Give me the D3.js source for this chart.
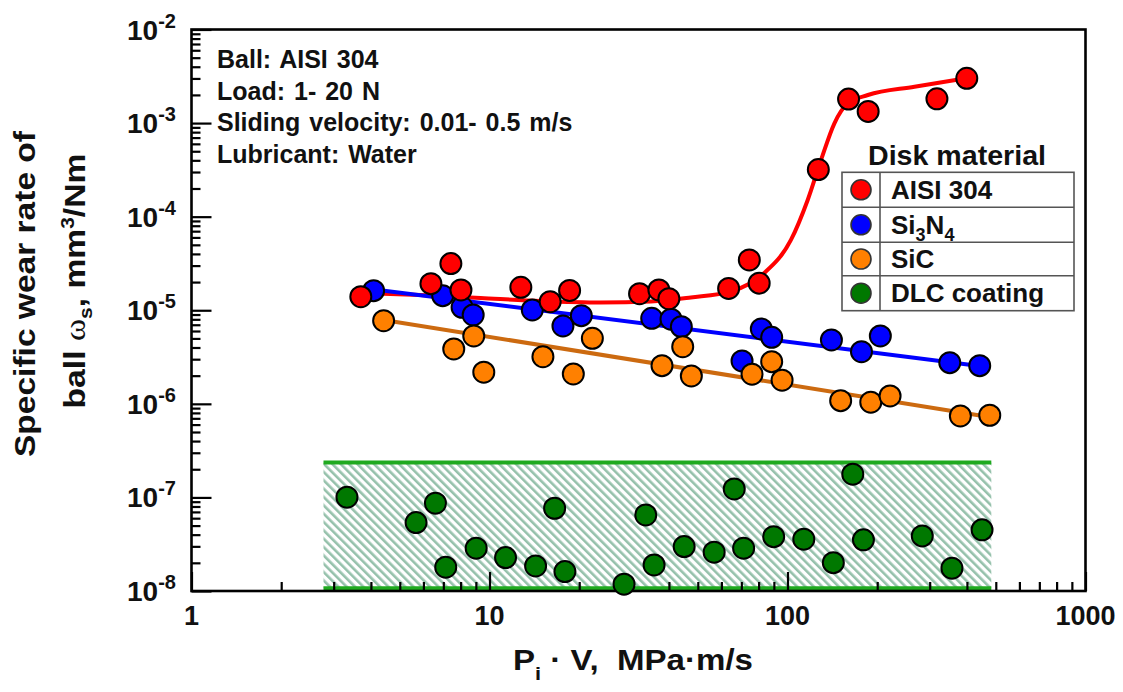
<!DOCTYPE html>
<html>
<head>
<meta charset="utf-8">
<script src="https://cdn.jsdelivr.net/npm/d3@7"></script>
<style>
  html, body { margin: 0; padding: 0; background: #fff; }
  svg { display: block; }
  text { font-family: "Liberation Sans", Arial, Helvetica, sans-serif; font-weight: bold; fill: #111; }
</style>
</head>
<body>
<svg id="chart" width="1123" height="692"></svg>
<script>
// ---- data: specific wear rate of the AISI 304 ball vs. Pi·V ----
const xMajorTicks = [1, 10, 100, 1000];
const yExponents = [-2, -3, -4, -5, -6, -7, -8];

// AISI 304 disk
const aisiPV   = [3.70, 6.36, 7.42, 8.02, 12.74, 15.98, 18.57, 31.88, 37.02, 39.99, 63.45, 74.45, 80.34, 126.9, 160.3, 186.5, 317.3, 399.6];
const aisiWear = [1.397e-5, 1.924e-5, 3.15e-5, 1.648e-5, 1.76e-5, 1.235e-5, 1.627e-5, 1.504e-5, 1.648e-5, 1.33e-5, 1.71e-5, 3.45e-5, 1.948e-5, 3.185e-4, 1.804e-3, 1.33e-3, 1.818e-3, 3.01e-3];
const aisiFitPV   = [3.713, 5.864, 9.328, 14.84, 23.61, 34.77, 47.38, 64.58, 83.37, 102.7, 116.9, 129.6, 143.7, 159.4, 186.1, 266.8, 398.1];
const aisiFitWear = [1.530e-5, 1.457e-5, 1.353e-5, 1.257e-5, 1.212e-5, 1.241e-5, 1.370e-5, 1.588e-5, 2.485e-5, 5.638e-5, 1.508e-4, 4.035e-4, 9.95e-4, 1.627e-3, 1.996e-3, 2.448e-3, 3.01e-3];

// Si3N4 disk
const sinPV   = [4.084, 6.966, 8.09, 8.815, 13.92, 17.64, 20.33, 35.02, 40.65, 44.03, 70.38, 81.7, 88.5, 140.4, 177.1, 204.9, 350.4, 441.6];
const sinWear = [1.620e-5, 1.432e-5, 1.076e-5, 8.91e-6, 1.007e-5, 6.80e-6, 8.76e-6, 8.21e-6, 8.02e-6, 6.68e-6, 2.873e-6, 6.31e-6, 5.14e-6, 4.82e-6, 3.61e-6, 5.31e-6, 2.755e-6, 2.559e-6];
const sinFitPV   = [4.107, 440.5];
const sinFitWear = [1.668e-5, 2.541e-6];

// SiC disk
const sicPV   = [4.413, 7.586, 8.855, 9.568, 15.11, 19.11, 22.14, 37.92, 44.5, 47.57, 76.03, 88.5, 95.9, 150.8, 190.3, 220.9, 380.3, 477.2];
const sicWear = [7.74e-6, 3.86e-6, 5.31e-6, 2.176e-6, 3.19e-6, 2.087e-6, 5.02e-6, 2.559e-6, 4.08e-6, 1.986e-6, 2.072e-6, 2.824e-6, 1.787e-6, 1.082e-6, 1.040e-6, 1.214e-6, 7.42e-7, 7.55e-7];
const sicFitPV   = [4.413, 475.7];
const sicFitWear = [7.88e-6, 7.24e-7];

// DLC coating disk
const dlcPV   = [3.324, 5.670, 6.585, 7.131, 9.022, 11.32, 14.28, 16.54, 17.91, 28.28, 33.45, 35.67, 45.00, 56.74, 66.26, 71.25, 89.87, 113.4, 142.5, 165.6, 179.8, 283.3, 356.3, 449.6];
const dlcWear = [1.005e-7, 5.38e-8, 8.67e-8, 1.796e-8, 2.866e-8, 2.274e-8, 1.854e-8, 7.66e-8, 1.612e-8, 1.182e-8, 6.50e-8, 1.900e-8, 2.98e-8, 2.60e-8, 1.232e-7, 2.866e-8, 3.81e-8, 3.58e-8, 2.01e-8, 1.769e-7, 3.52e-8, 3.88e-8, 1.752e-8, 4.50e-8];
const dlcBandPV   = [2.773, 483];
const dlcBandWear = [1.07e-8, 2.355e-7];

const conditions = ["Ball: AISI 304", "Load: 1- 20 N", "Sliding velocity: 0.01- 0.5 m/s", "Lubricant: Water"];
const legendNames = ["AISI 304", "Si3N4", "SiC", "DLC coating"];

// ---- layout ----
const svg = d3.select("#chart");
const plot = { left: 191.5, right: 1085.5, top: 29.5, bottom: 591 };

const x = d3.scaleLog().domain([1, 1000]).range([plot.left, plot.right]);
const y = d3.scaleLog().domain([1e-8, 1e-2]).range([plot.bottom, plot.top]);

const colors = {
  aisi: "#ff0000", sin: "#0000ff", sic: "#ff8000", dlc: "#007800",
  sicLine: "#cc6a10", dlcLine: "#1faa1f", hatch: "#95c1ab"
};

// hatch pattern for the DLC band
const defs = svg.append("defs");
defs.append("pattern")
  .attr("id", "dlcHatch")
  .attr("patternUnits", "userSpaceOnUse")
  .attr("width", 5.9).attr("height", 5.9)
  .attr("patternTransform", "rotate(-45)")
  .append("rect")
  .attr("x", 0).attr("y", 0).attr("width", 2.6).attr("height", 5.9)
  .attr("fill", colors.hatch);

// DLC band
const band = svg.append("g");
band.append("rect")
  .attr("x", x(dlcBandPV[0]))
  .attr("y", y(dlcBandWear[1]))
  .attr("width", x(dlcBandPV[1]) - x(dlcBandPV[0]))
  .attr("height", y(dlcBandWear[0]) - y(dlcBandWear[1]))
  .attr("fill", "url(#dlcHatch)");
[dlcBandWear[0], dlcBandWear[1]].forEach(v => {
  band.append("line")
    .attr("x1", x(dlcBandPV[0])).attr("x2", x(dlcBandPV[1]))
    .attr("y1", y(v)).attr("y2", y(v))
    .attr("stroke", colors.dlcLine).attr("stroke-width", 4);
});

// axes with inward ticks
const xMinor = [];
for (let d = 1; d < 1000; d *= 10) for (let k = 2; k <= 9; k++) xMinor.push(d * k);
const yMinor = [];
for (let e = -8; e < -2; e++) for (let k = 2; k <= 9; k++) yMinor.push(k * Math.pow(10, e));
const yMajor = yExponents.map(e => Math.pow(10, e));

function styleAxis(g) {
  g.select(".domain").remove();
  g.selectAll(".tick line").attr("stroke", "#000").attr("stroke-width", 2.2);
  g.selectAll(".tick text").remove();
}
svg.append("g").attr("transform", `translate(0,${plot.bottom})`)
  .call(d3.axisBottom(x).tickValues(xMajorTicks).tickSize(-19).tickFormat(""))
  .call(styleAxis);
svg.append("g").attr("transform", `translate(0,${plot.bottom})`)
  .call(d3.axisBottom(x).tickValues(xMinor).tickSize(-9).tickFormat(""))
  .call(styleAxis);
svg.append("g").attr("transform", `translate(${plot.left},0)`)
  .call(d3.axisLeft(y).tickValues(yMajor).tickSize(-20).tickFormat(""))
  .call(styleAxis);
svg.append("g").attr("transform", `translate(${plot.left},0)`)
  .call(d3.axisLeft(y).tickValues(yMinor).tickSize(-9).tickFormat(""))
  .call(styleAxis);

// frame
svg.append("rect")
  .attr("x", plot.left).attr("y", plot.top)
  .attr("width", plot.right - plot.left).attr("height", plot.bottom - plot.top)
  .attr("fill", "none").attr("stroke", "#000").attr("stroke-width", 2.6);

// tick labels
svg.append("g").selectAll("text").data(xMajorTicks).join("text")
  .attr("x", d => x(d)).attr("y", 625)
  .attr("text-anchor", "middle")
  .attr("font-size", 27)
  .text(d => d);

const yLab = svg.append("g").selectAll("text").data(yExponents).join("text")
  .attr("x", 176).attr("y", d => y(Math.pow(10, d)) + 10)
  .attr("text-anchor", "end")
  .attr("font-size", 28);
yLab.append("tspan").text("10");
yLab.append("tspan").attr("dy", -12).attr("font-size", 20).text(d => String(d));

// axis titles
const yTitle = svg.append("g");
yTitle.append("text")
  .attr("transform", "translate(35,294) rotate(-90)")
  .attr("text-anchor", "middle").attr("font-size", 29)
  .attr("textLength", 326).attr("lengthAdjust", "spacingAndGlyphs")
  .text("Specific wear rate of");
const yt2 = yTitle.append("text")
  .attr("transform", "translate(85,281) rotate(-90)")
  .attr("text-anchor", "middle").attr("font-size", 29)
  .attr("textLength", 255).attr("lengthAdjust", "spacingAndGlyphs");
yt2.append("tspan").text("ball ");
yt2.append("tspan").attr("font-family", "'Liberation Serif', 'DejaVu Serif', serif").attr("font-weight", "normal").text("ω");
yt2.append("tspan").attr("font-size", 18).attr("dy", 7).text("s");
yt2.append("tspan").attr("dy", -7).text(", mm");
yt2.append("tspan").attr("font-size", 18).attr("dy", -11).text("3");
yt2.append("tspan").attr("dy", 11).text("/Nm");

const xt = svg.append("text").attr("x", 513).attr("y", 670).attr("font-size", 29)
  .attr("textLength", 240).attr("lengthAdjust", "spacingAndGlyphs")
  .attr("xml:space", "preserve").style("white-space", "pre");
xt.append("tspan").text("P");
xt.append("tspan").attr("font-size", 19).attr("dy", 10).text("i");
xt.append("tspan").attr("dy", -10).text(" · V,  MPa·m/s");

// test conditions
svg.append("g").selectAll("text").data(conditions).join("text")
  .attr("x", 217).attr("y", (d, i) => [68, 100, 131, 163][i])
  .attr("font-size", 25).attr("word-spacing", 2)
  .text(d => d);

// trend lines
const line = d3.line().x(d => x(d[0])).y(d => y(d[1]));
svg.append("path")
  .datum(aisiFitPV.map((v, i) => [v, aisiFitWear[i]]))
  .attr("d", line.curve(d3.curveMonotoneX))
  .attr("fill", "none").attr("stroke", colors.aisi).attr("stroke-width", 4);
svg.append("path")
  .datum(sinFitPV.map((v, i) => [v, sinFitWear[i]]))
  .attr("d", d3.line().x(d => x(d[0])).y(d => y(d[1])))
  .attr("fill", "none").attr("stroke", colors.sin).attr("stroke-width", 4);
svg.append("path")
  .datum(sicFitPV.map((v, i) => [v, sicFitWear[i]]))
  .attr("d", d3.line().x(d => x(d[0])).y(d => y(d[1])))
  .attr("fill", "none").attr("stroke", colors.sicLine).attr("stroke-width", 4);

// data points
function drawPoints(pv, wear, fill) {
  svg.append("g").selectAll("circle")
    .data(pv.map((v, i) => [v, wear[i]]))
    .join("circle")
    .attr("cx", d => x(d[0])).attr("cy", d => y(d[1]))
    .attr("r", 10.5)
    .attr("fill", fill).attr("stroke", "#000").attr("stroke-width", 2);
}
drawPoints(dlcPV, dlcWear, colors.dlc);
drawPoints(sinPV, sinWear, colors.sin);
drawPoints(sicPV, sicWear, colors.sic);
drawPoints(aisiPV, aisiWear, colors.aisi);

// legend
const lg = svg.append("g");
const lgLeft = 842, lgRight = 1074, lgDiv = 880;
const rowEdges = [172.3, 207.3, 242.3, 275.7, 310.7];
const lgFills = [colors.aisi, colors.sin, colors.sic, colors.dlc];
lg.append("text").attr("x", 957).attr("y", 165).attr("text-anchor", "middle")
  .attr("font-size", 27).attr("textLength", 178).attr("lengthAdjust", "spacingAndGlyphs")
  .text("Disk material");
lg.append("rect").attr("x", lgLeft).attr("y", rowEdges[0])
  .attr("width", lgRight - lgLeft).attr("height", rowEdges[4] - rowEdges[0])
  .attr("fill", "#fff").attr("stroke", "#555").attr("stroke-width", 1.6);
rowEdges.slice(1, 4).forEach(v => {
  lg.append("line").attr("x1", lgLeft).attr("x2", lgRight).attr("y1", v).attr("y2", v)
    .attr("stroke", "#555").attr("stroke-width", 1.6);
});
lg.append("line").attr("x1", lgDiv).attr("x2", lgDiv).attr("y1", rowEdges[0]).attr("y2", rowEdges[4])
  .attr("stroke", "#555").attr("stroke-width", 1.6);
legendNames.forEach((name, i) => {
  const cy = (rowEdges[i] + rowEdges[i + 1]) / 2;
  lg.append("circle").attr("cx", 861).attr("cy", cy).attr("r", 10)
    .attr("fill", lgFills[i]).attr("stroke", "#333").attr("stroke-width", 1.6);
  const t = lg.append("text").attr("x", 891).attr("y", cy + 9).attr("font-size", 26);
  if (name === "Si3N4") {
    t.append("tspan").text("Si");
    t.append("tspan").attr("font-size", 18).attr("dy", 7).text("3");
    t.append("tspan").attr("dy", -7).text("N");
    t.append("tspan").attr("font-size", 18).attr("dy", 7).text("4");
  } else {
    t.text(name);
  }
});
</script>
</body>
</html>
